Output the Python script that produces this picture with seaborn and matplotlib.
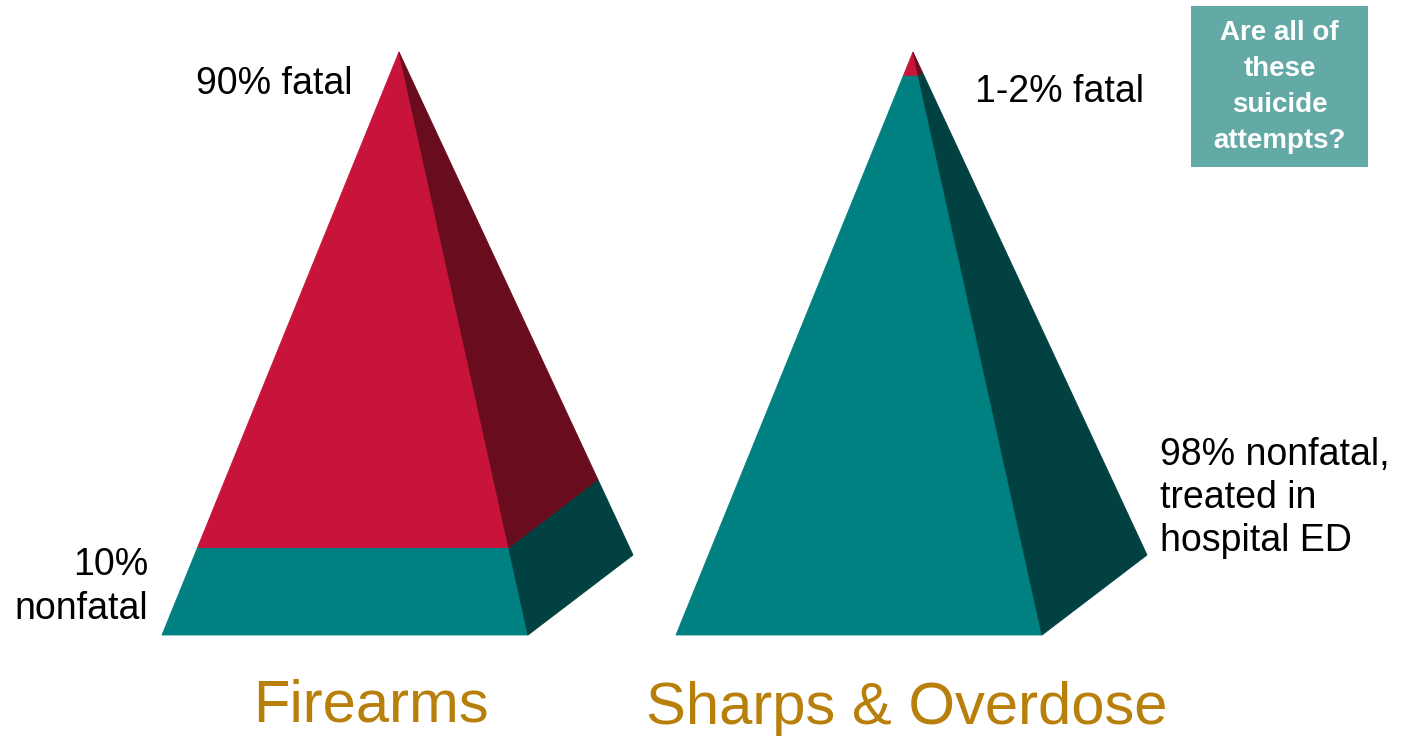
import matplotlib
matplotlib.use("Agg")
import matplotlib.pyplot as plt
import seaborn as sns
import numpy as np

# Categories and what each pyramid shows
categories = ["Firearms", "Sharps & Overdose"]
fatal_labels = ["90% fatal", "1-2% fatal"]
nonfatal_labels = ["10%\nnonfatal", "98% nonfatal,\ntreated in\nhospital ED"]
# Depth of the fatal (red) tip, as a fraction of pyramid height
fatal_tip_depth = [0.85, 0.04]
question = "Are all of\nthese\nsuicide\nattempts?"

# Colours
RED, RED_DARK = "#C8143A", "#690C1E"
TEAL, TEAL_DARK = "#008080", "#024141"
TITLE_GOLD = "#B8800A"
BOX = "#63A9A6"

sns.set_theme(style="white")
plt.rcParams["font.family"] = ["Liberation Sans", "DejaVu Sans"]

fig = plt.figure(figsize=(14.04, 7.40), dpi=100)
ax = fig.add_axes([0, 0, 1, 1])
ax.set_xlim(0, 1404)
ax.set_ylim(740, 0)
ax.axis("off")

# Pyramid geometry relative to the apex x-position
centers = [399, 913]
apex_y, base_y, back_y = 52, 635, 555
fl_dx, fr_dx, br_dx = -237, 129, 234


def lerp(p, q, t):
    return (p[0] + t * (q[0] - p[0]), p[1] + t * (q[1] - p[1]))


def face(points, color):
    xs, ys = zip(*points)
    ax.fill(xs, ys, color=color, ec=color, lw=0.6, joinstyle="miter")


for cx, t in zip(centers, fatal_tip_depth):
    A = (cx, apex_y)
    FL = (cx + fl_dx, base_y)
    FR = (cx + fr_dx, base_y)
    BR = (cx + br_dx, back_y)
    sFL, sFR, sBR = lerp(A, FL, t), lerp(A, FR, t), lerp(A, BR, t)
    # front face
    face([sFL, sFR, FR, FL], TEAL)
    face([A, sFR, sFL], RED)
    # side face
    face([sFR, sBR, BR, FR], TEAL_DARK)
    face([A, sBR, sFR], RED_DARK)

label_kw = dict(fontsize=27, color="black", linespacing=1.26)
ax.text(353, 84, fatal_labels[0], ha="right", va="center", **label_kw)
ax.text(975, 92, fatal_labels[1], ha="left", va="center", **label_kw)
ax.text(148, 587, nonfatal_labels[0], ha="right", va="center", **label_kw)
ax.text(1160, 498, nonfatal_labels[1], ha="left", va="center", **label_kw)

title_kw = dict(fontsize=43, color=TITLE_GOLD, ha="center", va="center")
ax.text(371, 706, categories[0], **title_kw)
ax.text(907, 709, categories[1], **title_kw)

ax.add_patch(plt.Rectangle((1191, 6), 177, 161, color=BOX, lw=0))
ax.text(1279.5, 87, question, ha="center", va="center", color="white",
        fontsize=20, fontweight="bold", linespacing=1.5)

fig.savefig("out.png", dpi=100)
